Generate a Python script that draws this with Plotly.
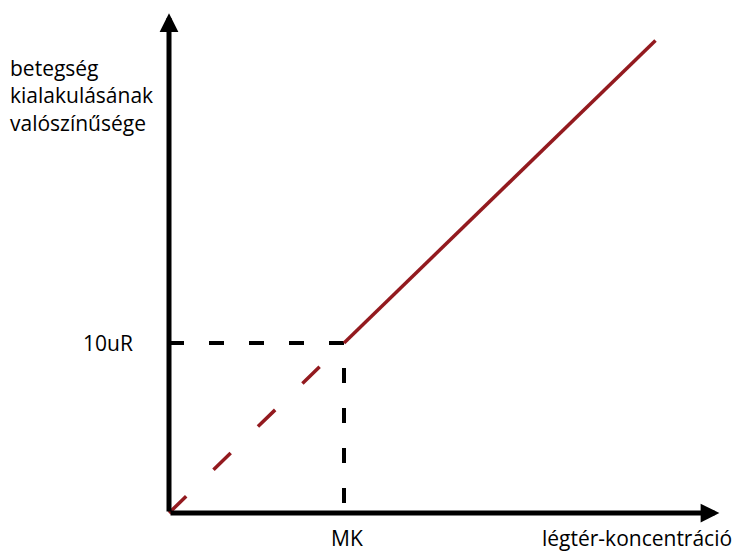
import plotly.graph_objects as go

# data (abstract units: MK = 1, 10uR = 1)
mk = 1.0
threshold = 1.0
solid_x = [1.0, 2.78]
solid_y = [1.0, 2.78]
dashed_x = [0.0, 1.0]
dashed_y = [0.0, 1.0]
x_axis_end = 3.145
y_axis_end = 2.94

x_label = "légtér-koncentráció"
y_label = "betegség<br>kialakulásának<br>valószínűsége"
mk_label = "MK"
thr_label = "10uR"

RED = "#931a1f"
FONT = "Open Sans"
FS = 21

fig = go.Figure()
fig.add_trace(go.Scatter(x=[0, mk, mk], y=[threshold, threshold, 0], mode="lines",
                         line=dict(color="black", width=4, dash="15px,25px"), hoverinfo="skip"))
fig.add_trace(go.Scatter(x=dashed_x, y=dashed_y, mode="lines",
                         line=dict(color=RED, width=3.5, dash="24px,38px"), hoverinfo="skip"))
fig.add_trace(go.Scatter(x=solid_x, y=solid_y, mode="lines",
                         line=dict(color=RED, width=3.5), hoverinfo="skip"))

# axes with arrows
for (xe, ye) in [(x_axis_end, 0), (0, y_axis_end)]:
    fig.add_annotation(x=xe, y=ye, ax=0, ay=0, xref="x", yref="y", axref="x", ayref="y",
                       showarrow=True, arrowhead=2, arrowsize=0.75, arrowwidth=5,
                       arrowcolor="black", text="")

fig.add_annotation(x=mk, y=0, xref="x", yref="y", text=mk_label, showarrow=False,
                   xshift=3, yshift=-25, font=dict(family=FONT, size=FS, color="black"))
fig.add_annotation(x=1.0, y=0, xref="paper", yref="y", text=x_label, showarrow=False,
                   xanchor="right", xshift=-1, yshift=-25,
                   font=dict(family=FONT, size=FS, color="black"))
fig.add_annotation(x=0, y=threshold, xref="x", yref="y", text=thr_label, showarrow=False,
                   xanchor="right", xshift=-34, yshift=0,
                   font=dict(family=FONT, size=FS, color="black"))
fig.add_annotation(x=0.0, y=1 - 95 / 551, xref="paper", yref="paper", text=y_label, showarrow=False,
                   xanchor="left", yanchor="middle", align="left", xshift=8,
                   font=dict(family=FONT, size=FS, color="black"))

fig.update_layout(
    width=735, height=551,
    margin=dict(l=0, r=0, t=0, b=0),
    paper_bgcolor="white", plot_bgcolor="white",
    showlegend=False,
    xaxis=dict(range=[-169/175, (735-169)/175], visible=False, fixedrange=True),
    yaxis=dict(range=[-(551-513)/170, 513/170], visible=False, fixedrange=True),
)

fig.write_html("out.html", config={"displayModeBar": False},
               post_script="document.body.style.margin='0';")
